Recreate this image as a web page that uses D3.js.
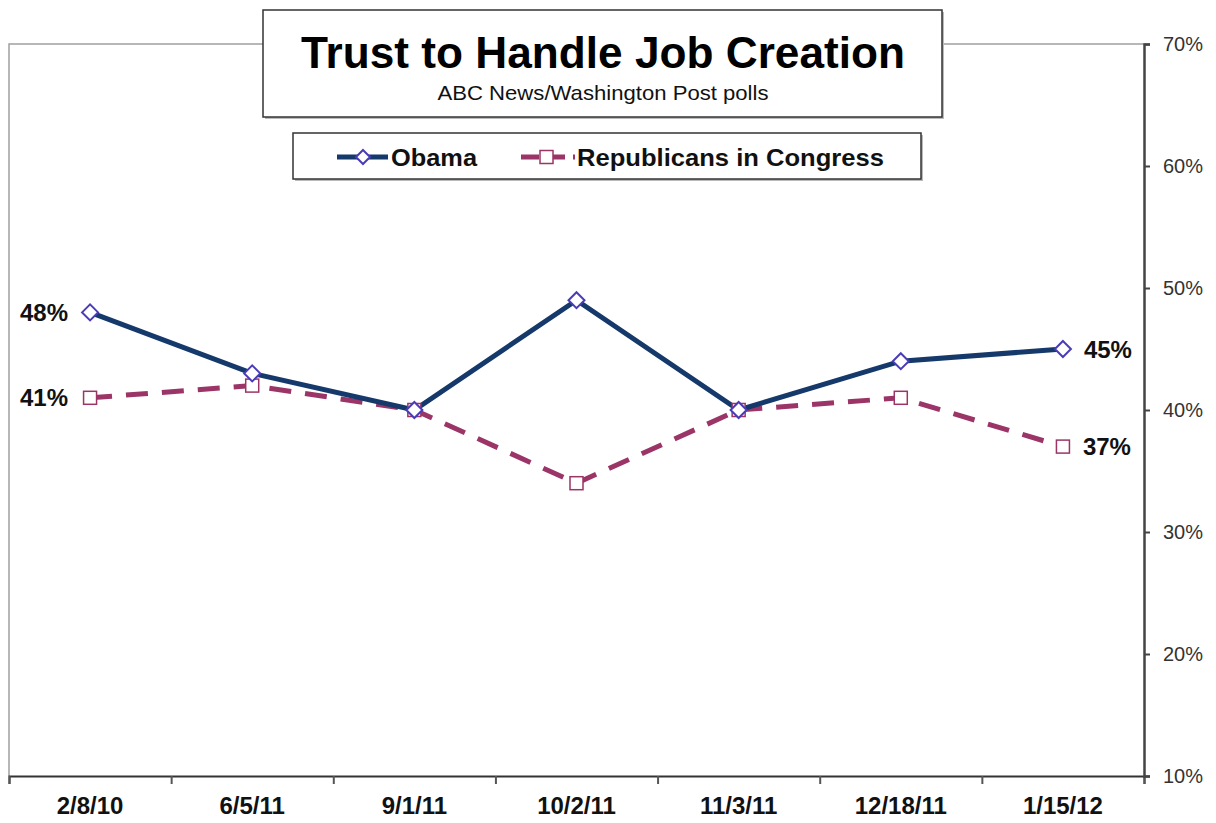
<!DOCTYPE html>
<html>
<head>
<meta charset="utf-8">
<script src="https://cdn.jsdelivr.net/npm/d3@7"></script>
<style>
  body { margin: 0; background: #fff; }
  svg { display: block; font-family: "Liberation Sans", Arial, sans-serif; }
</style>
</head>
<body>
<script>
var dates = ["2/8/10", "6/5/11", "9/1/11", "10/2/11", "11/3/11", "12/18/11", "1/15/12"];
var obama = [48, 43, 40, 49, 40, 44, 45];
var republicans = [41, 42, 40, 34, 40, 41, 37];
var yTicks = [10, 20, 30, 40, 50, 60, 70];

var W = 1216, H = 823;
var plotLeft = 9, plotRight = 1144, plotTop = 44, plotBottom = 776;

var svg = d3.select("body").append("svg")
  .attr("width", W)
  .attr("height", H);

var x = d3.scaleBand().domain(dates).range([plotLeft, plotRight]).padding(0);
var xEdge = d3.scaleLinear().domain([0, dates.length]).range([plotLeft, plotRight]);
var y = d3.scaleLinear().domain([10, 70]).range([plotBottom, plotTop]);
var cx = function(d) { return x(d) + x.bandwidth() / 2; };

// plot border (left and top, light gray)
svg.append("path")
  .attr("d", "M" + plotLeft + "," + plotBottom + "V" + plotTop + "H" + plotRight)
  .attr("fill", "none")
  .attr("stroke", "#a0a0a0")
  .attr("stroke-width", 1.5);

// x axis ticks at category edges
var xAxisG = svg.append("g")
  .attr("transform", "translate(0," + plotBottom + ")")
  .call(d3.axisBottom(xEdge).tickValues(d3.range(dates.length + 1)).tickSize(8).tickFormat(""));
xAxisG.select(".domain").attr("stroke", "#333").attr("stroke-width", 2);
xAxisG.selectAll(".tick line").attr("stroke", "#555").attr("stroke-width", 2);

// x axis labels
var xLab = svg.append("g")
  .attr("transform", "translate(0," + plotBottom + ")")
  .call(d3.axisBottom(x).tickSize(0).tickPadding(21));
xLab.select(".domain").remove();
xLab.selectAll("text")
  .attr("font-size", 24)
  .attr("font-weight", "bold")
  .attr("fill", "#111")
  .attr("font-family", "Liberation Sans, Arial, sans-serif");

// y axis on the right
var yAxisG = svg.append("g")
  .attr("transform", "translate(" + plotRight + ",0)")
  .call(d3.axisRight(y).tickValues(yTicks).tickSize(6).tickPadding(13)
    .tickFormat(function(d) { return d + "%"; }));
yAxisG.select(".domain").attr("stroke", "#444").attr("stroke-width", 2.5);
yAxisG.selectAll(".tick line").attr("stroke", "#444").attr("stroke-width", 2);
yAxisG.selectAll("text")
  .attr("font-size", 20)
  .attr("fill", "#333")
  .attr("font-family", "Liberation Sans, Arial, sans-serif");

var obamaColor = "#15396a", obamaMarker = "#4a3cb8";
var repColor = "#9b3567";

var line = d3.line()
  .x(function(d, i) { return cx(dates[i]); })
  .y(function(d) { return y(d); });

// Republicans line (dashed)
svg.append("path")
  .datum(republicans)
  .attr("d", line)
  .attr("fill", "none")
  .attr("stroke", repColor)
  .attr("stroke-width", 5)
  .attr("stroke-dasharray", "22,14");

// Obama line
svg.append("path")
  .datum(obama)
  .attr("d", line)
  .attr("fill", "none")
  .attr("stroke", obamaColor)
  .attr("stroke-width", 5);

// markers
svg.selectAll(".rep-m")
  .data(republicans)
  .enter().append("rect")
  .attr("class", "rep-m")
  .attr("x", function(d, i) { return cx(dates[i]) - 6.5; })
  .attr("y", function(d) { return y(d) - 6.5; })
  .attr("width", 13)
  .attr("height", 13)
  .attr("fill", "#fff")
  .attr("stroke", repColor)
  .attr("stroke-width", 1.5);

svg.selectAll(".ob-m")
  .data(obama)
  .enter().append("path")
  .attr("class", "ob-m")
  .attr("d", "M0,-8L8,0L0,8L-8,0Z")
  .attr("transform", function(d, i) { return "translate(" + cx(dates[i]) + "," + y(d) + ")"; })
  .attr("fill", "#fff")
  .attr("stroke", obamaMarker)
  .attr("stroke-width", 2);

// end labels
var last = dates.length - 1;
function endLabel(series, i, dx, anchor) {
  svg.append("text")
    .attr("x", cx(dates[i]) + dx)
    .attr("y", y(series[i]))
    .attr("dy", "0.36em")
    .attr("text-anchor", anchor)
    .attr("font-size", 24)
    .attr("font-weight", "bold")
    .attr("fill", "#111")
    .text(series[i] + "%");
}
endLabel(obama, 0, -22, "end");
endLabel(republicans, 0, -22, "end");
endLabel(obama, last, 21, "start");
endLabel(republicans, last, 20, "start");

// boxes with a soft shadow
function box(x0, y0, w, h) {
  svg.append("rect")
    .attr("x", x0 + 2).attr("y", y0 + 2)
    .attr("width", w).attr("height", h)
    .attr("fill", "#bbb");
  svg.append("rect")
    .attr("x", x0).attr("y", y0)
    .attr("width", w).attr("height", h)
    .attr("fill", "#fff")
    .attr("stroke", "#333")
    .attr("stroke-width", 1.5);
}
box(263, 10, 679, 107);

svg.append("text")
  .attr("x", 603).attr("y", 68)
  .attr("text-anchor", "middle")
  .attr("font-size", 44)
  .attr("font-weight", "bold")
  .attr("fill", "#000")
  .attr("textLength", 604)
  .attr("lengthAdjust", "spacingAndGlyphs")
  .text("Trust to Handle Job Creation");

svg.append("text")
  .attr("x", 603).attr("y", 100)
  .attr("text-anchor", "middle")
  .attr("font-size", 21)
  .attr("fill", "#111")
  .attr("textLength", 331)
  .attr("lengthAdjust", "spacingAndGlyphs")
  .text("ABC News/Washington Post polls");

// legend
box(293, 133, 628, 46);
var legY = 157;

svg.append("line")
  .attr("x1", 337).attr("x2", 388).attr("y1", legY).attr("y2", legY)
  .attr("stroke", obamaColor).attr("stroke-width", 5);
svg.append("path")
  .attr("d", "M0,-7L7,0L0,7L-7,0Z")
  .attr("transform", "translate(363," + legY + ")")
  .attr("fill", "#fff").attr("stroke", obamaMarker).attr("stroke-width", 2);
svg.append("text")
  .attr("x", 391).attr("y", legY).attr("dy", "0.36em")
  .attr("font-size", 24).attr("font-weight", "bold").attr("fill", "#111")
  .attr("textLength", 86).attr("lengthAdjust", "spacingAndGlyphs")
  .text("Obama");

svg.append("line")
  .attr("x1", 521).attr("x2", 575).attr("y1", legY).attr("y2", legY)
  .attr("stroke", repColor).attr("stroke-width", 5)
  .attr("stroke-dasharray", "18,8");
svg.append("rect")
  .attr("x", 540).attr("y", legY - 6.5)
  .attr("width", 13).attr("height", 13)
  .attr("fill", "#fff").attr("stroke", repColor).attr("stroke-width", 1.5);
svg.append("text")
  .attr("x", 577).attr("y", legY).attr("dy", "0.36em")
  .attr("font-size", 24).attr("font-weight", "bold").attr("fill", "#111")
  .attr("textLength", 307).attr("lengthAdjust", "spacingAndGlyphs")
  .text("Republicans in Congress");
</script>
</body>
</html>
